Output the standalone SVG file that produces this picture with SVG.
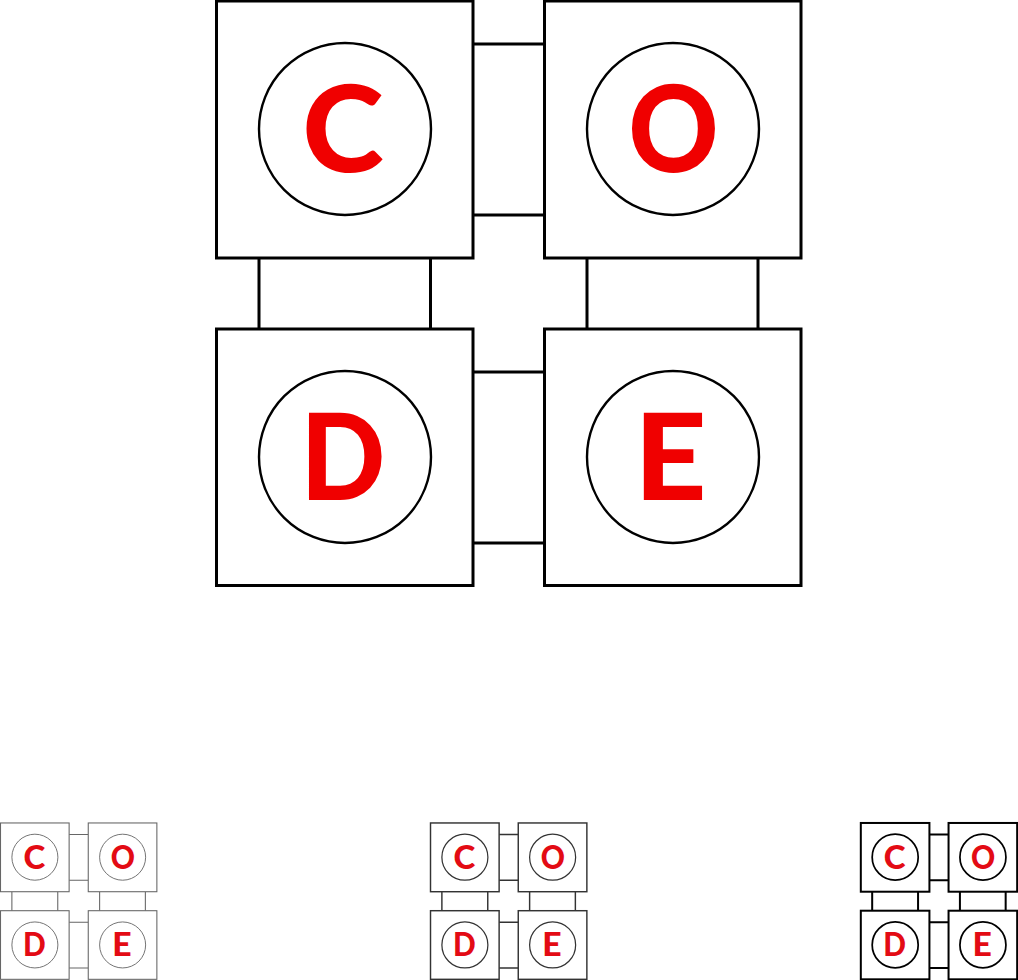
<svg xmlns="http://www.w3.org/2000/svg" width="1018" height="980" viewBox="0 0 1018 980">
<style>
.l{stroke:#000;stroke-width:3}
.l circle{stroke-width:2.4}
.m{stroke:#333;stroke-width:5.4}
.m circle{stroke-width:4.6}
.t{stroke:#666;stroke-width:4}
.t circle{stroke-width:3.4}
.k{stroke:#000;stroke-width:7.5}
.k circle{stroke-width:6.5}
rect,circle{fill:#fff}
text{font-family:Lato,"Liberation Sans",Arial,sans-serif;font-weight:900;font-size:120px;fill:#f00000;text-anchor:middle;stroke:none}
.s text{fill:#e30b14}
</style>
<rect width="1018" height="980" fill="#fff"/>
<g id="icon-large" class="l">
<g id="connectors-large"><path fill="none" d="M473 44H544.5M473 215H544.5M259 258V329M430.5 258V329M587 258V329M758 258V329M473 372H544.5M473 543H544.5"/></g>
<g id="node-c"><rect x="216.5" y="1" width="256.5" height="257"/><circle cx="345" cy="129" r="86"/><text transform="translate(343 172) scale(1.03 1)">C</text></g>
<g id="node-o"><rect x="544.5" y="1" width="256.5" height="257"/><circle cx="673" cy="129" r="86"/><text transform="translate(673.5 172) scale(.93 1)">O</text></g>
<g id="node-d"><rect x="216.5" y="329" width="256.5" height="256.5"/><circle cx="345" cy="457" r="86"/><text transform="translate(343 500) scale(.93 1)">D</text></g>
<g id="node-e"><rect x="544.5" y="329" width="256.5" height="256.5"/><circle cx="673" cy="457" r="86"/><text transform="translate(670.5 500) scale(1.05 1)">E</text></g>
</g>
<g id="icon-thin" class="s t" transform="translate(-57.4 822.7) scale(.2675)">
<g id="connectors-thin"><path fill="none" d="M473 44H544.5M473 215H544.5M259 258V329M430.5 258V329M587 258V329M758 258V329M473 372H544.5M473 543H544.5"/></g>
<g id="thin-c"><rect x="216.5" y="1" width="256.5" height="257"/><circle cx="345" cy="129" r="86"/><text transform="translate(343 172) scale(1.03 1)">C</text></g>
<g id="thin-o"><rect x="544.5" y="1" width="256.5" height="257"/><circle cx="673" cy="129" r="86"/><text transform="translate(673.5 172) scale(.93 1)">O</text></g>
<g id="thin-d"><rect x="216.5" y="329" width="256.5" height="256.5"/><circle cx="345" cy="457" r="86"/><text transform="translate(343 500) scale(.93 1)">D</text></g>
<g id="thin-e"><rect x="544.5" y="329" width="256.5" height="256.5"/><circle cx="673" cy="457" r="86"/><text transform="translate(670.5 500) scale(1.05 1)">E</text></g>
</g>
<g id="icon-medium" class="s m" transform="translate(372.6 822.7) scale(.2675)">
<g id="connectors-medium"><path fill="none" d="M473 44H544.5M473 215H544.5M259 258V329M430.5 258V329M587 258V329M758 258V329M473 372H544.5M473 543H544.5"/></g>
<g id="medium-c"><rect x="216.5" y="1" width="256.5" height="257"/><circle cx="345" cy="129" r="86"/><text transform="translate(343 172) scale(1.03 1)">C</text></g>
<g id="medium-o"><rect x="544.5" y="1" width="256.5" height="257"/><circle cx="673" cy="129" r="86"/><text transform="translate(673.5 172) scale(.93 1)">O</text></g>
<g id="medium-d"><rect x="216.5" y="329" width="256.5" height="256.5"/><circle cx="345" cy="457" r="86"/><text transform="translate(343 500) scale(.93 1)">D</text></g>
<g id="medium-e"><rect x="544.5" y="329" width="256.5" height="256.5"/><circle cx="673" cy="457" r="86"/><text transform="translate(670.5 500) scale(1.05 1)">E</text></g>
</g>
<g id="icon-bold" class="s k" transform="translate(802.9 822.7) scale(.2675)">
<g id="connectors-bold"><path fill="none" d="M473 44H544.5M473 215H544.5M259 258V329M430.5 258V329M587 258V329M758 258V329M473 372H544.5M473 543H544.5"/></g>
<g id="bold-c"><rect x="216.5" y="1" width="256.5" height="257"/><circle cx="345" cy="129" r="86"/><text transform="translate(343 172) scale(1.03 1)">C</text></g>
<g id="bold-o"><rect x="544.5" y="1" width="256.5" height="257"/><circle cx="673" cy="129" r="86"/><text transform="translate(673.5 172) scale(.93 1)">O</text></g>
<g id="bold-d"><rect x="216.5" y="329" width="256.5" height="256.5"/><circle cx="345" cy="457" r="86"/><text transform="translate(343 500) scale(.93 1)">D</text></g>
<g id="bold-e"><rect x="544.5" y="329" width="256.5" height="256.5"/><circle cx="673" cy="457" r="86"/><text transform="translate(670.5 500) scale(1.05 1)">E</text></g>
</g>
</svg>
